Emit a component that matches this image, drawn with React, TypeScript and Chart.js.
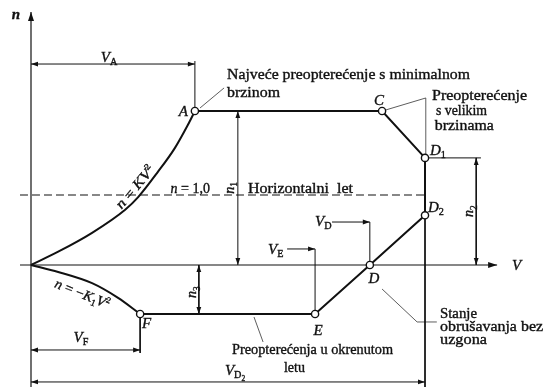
import { useEffect, useRef } from 'react';
import { Chart, registerables } from 'chart.js';

Chart.register(...registerables);

// Positive stall boundary n = K·V², origin to A
const stallPosV = [0, 6.9, 15.5, 23.9, 27.2, 32.2, 36.5, 39.8, 41.6];
const stallPosN = [0, 0.19, 0.46, 0.79, 0.97, 1.33, 1.67, 2.0, 2.2];

// Negative stall boundary n = -K1·V², origin to F
const stallNegV = [0, 6.9, 15.5, 22.1, 27.7];
const stallNegN = [0, -0.1, -0.26, -0.47, -0.7];

// Envelope corners, in drawing order A → C → D1 → D2 → D → E → F
const cornerNames = ['A', 'C', 'D1', 'D2', 'D', 'E', 'F'];
const cornerV = [41.6, 89.1, 100, 100, 86, 72.1, 27.7];
const cornerN = [2.2, 2.2, 1.53, 0.71, 0, -0.7, -0.7];

// Level flight load factor
const levelN = 1.0;

const INK = '#111';
const FONT = '"Liberation Serif", "Times New Roman", serif';

const corner = (name: string) => {
  const k = cornerNames.indexOf(name);
  return [cornerV[k], cornerN[k]];
};

type Line = { pts: number[][]; heads?: 'end' | 'both'; w?: number; color?: string; dash?: number[]; big?: boolean };

const [vA, nA] = corner('A');
const [vC, nC] = corner('C');
const [vD1, nD1] = corner('D1');
const [vD2, nD2] = corner('D2');
const [vD] = corner('D');
const [vE, nE] = corner('E');
const [vF, nF] = corner('F');

// Axes, dimension lines and leaders
const thinLines: Line[] = [
  { pts: [[0, -1.75], [0, 3.614]], heads: 'end', w: 1.2, big: true },
  { pts: [[-2.8, 0], [118.3, 0]], heads: 'end', w: 1.2, big: true },
  { pts: [[-2.8, levelN], [vD1, levelN]], w: 1.1, dash: [8, 4] },
  // V_A
  { pts: [[0, 2.871], [vA, 2.871]], heads: 'both' },
  { pts: [[vA, nA], [vA, 2.914]] },
  // n1
  { pts: [[52.5, 0], [52.5, nA]], heads: 'both' },
  // n2
  { pts: [[vD1, nD1], [114.2, nD1]] },
  { pts: [[113.0, nD1], [113.0, 0]], heads: 'both' },
  // n3
  { pts: [[42.6, 0], [42.6, nF]], heads: 'both' },
  // V_E
  { pts: [[vE, nE], [vE, 0.229]] },
  { pts: [[65.0, 0.229], [vE, 0.229]], heads: 'end' },
  // V_D
  { pts: [[vD, 0], [vD, 0.614]] },
  { pts: [[76.4, 0.614], [vD, 0.614]], heads: 'end' },
  // V_F
  { pts: [[vF, nF], [vF, -1.257]] },
  { pts: [[0, -1.214], [vF, -1.214]], heads: 'both' },
  // V_D2
  { pts: [[vD2, nD2], [vD2, -1.75]] },
  { pts: [[0, -1.671], [vD2, -1.671]], heads: 'both' },
  // leaders
  { pts: [[100.2, nD1], [100.2, 2.386]], w: 0.8, color: '#333' },
  { pts: [[vC + 0.9, nC + 0.014], [100.2, 2.386]], w: 0.8, color: '#333' },
  { pts: [[vA + 1.3, nA + 0.043], [49.0, 2.529]], w: 0.8, color: '#333' },
  { pts: [[89.1, -0.343], [98.0, -0.814], [103.0, -0.814]], w: 0.8, color: '#333' },
  { pts: [[56.6, -0.743], [58.9, -1.1]], w: 0.8, color: '#333' },
];

type Run = { t: string; i?: boolean; b?: boolean; s?: 1 | 2; p?: boolean };
type Label = { at: number[]; runs: Run[]; size: number; align: 'left' | 'center' | 'right'; rot?: number; width?: number };

const I = (t: string): Run => ({ t, i: true });
const R = (t: string): Run => ({ t });
const S = (t: string): Run => ({ t, s: 1 });
const SS = (t: string): Run => ({ t, s: 2 });
const P = (t: string): Run => ({ t, p: true });

const labels: Label[] = [
  { at: [-3.81, 3.514], runs: [{ t: 'n', i: true, b: true }], size: 15, align: 'center' },
  { at: [19.8, 2.9], runs: [I('V'), S('A')], size: 15, align: 'center' },
  { at: [39.85, 2.129], runs: [I('A')], size: 15, align: 'right' },
  { at: [49.75, 2.657], runs: [R('Najveće preopterećenje s minimalnom')], size: 14, align: 'left', width: 243 },
  { at: [49.75, 2.4], runs: [R('brzinom')], size: 14, align: 'left', width: 53 },
  { at: [88.32, 2.286], runs: [I('C')], size: 15, align: 'center' },
  { at: [101.78, 2.357], runs: [R('Preopterećenje')], size: 14, align: 'left', width: 95 },
  { at: [102.79, 2.143], runs: [R('s velikim')], size: 14, align: 'left', width: 51 },
  { at: [102.5, 1.929], runs: [R('brzinama')], size: 14, align: 'left', width: 59 },
  { at: [101.27, 1.571], runs: [I('D'), S('1')], size: 15, align: 'left' },
  { at: [100.76, 0.757], runs: [I('D'), S('2')], size: 15, align: 'left' },
  { at: [45.43, 1.029], runs: [I('n'), R(' = 1,0')], size: 14, align: 'right' },
  { at: [51.4, 1.1], runs: [I('n'), S('1')], size: 14, align: 'center', rot: -90 },
  { at: [55.08, 1.029], runs: [R('Horizontalni  let')], size: 14, align: 'left', width: 105 },
  { at: [27.28, 1.071], runs: [I('n'), R(' = '), I('KV'), P('2')], size: 14, align: 'center', rot: -49.5, width: 52 },
  { at: [12.6, -0.47], runs: [I('n'), R(' = −'), I('K'), S('1'), I('V'), P('2')], size: 14, align: 'center', rot: 22, width: 58 },
  { at: [60.15, 0.157], runs: [I('V'), S('E')], size: 15, align: 'left' },
  { at: [72.08, 0.557], runs: [I('V'), S('D')], size: 15, align: 'left' },
  { at: [87.06, -0.257], runs: [I('D')], size: 15, align: 'center' },
  { at: [122.08, -0.071], runs: [I('V')], size: 15, align: 'left' },
  { at: [42.0, -0.386], runs: [I('n'), S('3')], size: 14, align: 'center', rot: -90 },
  { at: [28.17, -0.9], runs: [I('F')], size: 15, align: 'left' },
  { at: [72.84, -1.0], runs: [I('E')], size: 15, align: 'center' },
  { at: [12.69, -1.1], runs: [I('V'), S('F')], size: 15, align: 'center' },
  { at: [103.81, -0.757], runs: [R('Stanje')], size: 14, align: 'left', width: 37 },
  { at: [103.81, -0.943], runs: [R('obrušavanja bez')], size: 14, align: 'left', width: 103 },
  { at: [103.81, -1.129], runs: [R('uzgona')], size: 14, align: 'left', width: 47 },
  { at: [51.02, -1.271], runs: [R('Preopterećenja u okrenutom')], size: 14, align: 'left', width: 161 },
  { at: [64.2, -1.529], runs: [R('letu')], size: 14, align: 'left', width: 21 },
  { at: [51.78, -1.571], runs: [I('V'), S('D'), SS('2')], size: 15, align: 'center' },
  { at: [112.3, 0.771], runs: [I('n'), S('2')], size: 14, align: 'center', rot: -90 },
];

const runSize = (r: Run, size: number) => (r.s === 1 ? size * 0.68 : r.s === 2 ? size * 0.5 : r.p ? size * 0.62 : size);
const runFont = (r: Run, size: number) =>
  `${r.i ? 'italic ' : ''}${r.b ? 'bold ' : ''}${runSize(r, size).toFixed(1)}px ${FONT}`;
const runDy = (r: Run, size: number) => (r.s === 1 ? size * 0.22 : r.s === 2 ? size * 0.4 : r.p ? -size * 0.4 : 0);

function drawLabel(ctx: CanvasRenderingContext2D, x: number, y: number, l: Label) {
  ctx.save();
  ctx.translate(x, y);
  if (l.rot) ctx.rotate((l.rot * Math.PI) / 180);
  const widths = l.runs.map((r) => {
    ctx.font = runFont(r, l.size);
    return ctx.measureText(r.t).width;
  });
  const total = widths.reduce((a, b) => a + b, 0);
  if (l.width) ctx.scale(l.width / total, 1);
  let cx = l.align === 'left' ? 0 : l.align === 'center' ? -total / 2 : -total;
  ctx.textAlign = 'left';
  ctx.textBaseline = 'alphabetic';
  ctx.fillStyle = INK;
  ctx.strokeStyle = INK;
  ctx.lineWidth = 0.35;
  l.runs.forEach((r, k) => {
    ctx.font = runFont(r, l.size);
    const dy = runDy(r, l.size);
    ctx.fillText(r.t, cx, dy);
    ctx.strokeText(r.t, cx, dy);
    cx += widths[k];
  });
  ctx.restore();
}

function arrowHead(ctx: CanvasRenderingContext2D, fx: number, fy: number, tx: number, ty: number, len: number, hw: number) {
  const d = Math.hypot(tx - fx, ty - fy) || 1;
  const ux = (tx - fx) / d;
  const uy = (ty - fy) / d;
  const bx = tx - ux * len;
  const by = ty - uy * len;
  ctx.beginPath();
  ctx.moveTo(tx, ty);
  ctx.lineTo(bx - uy * hw, by + ux * hw);
  ctx.lineTo(bx + uy * hw, by - ux * hw);
  ctx.closePath();
  ctx.fill();
}

const diagramPlugin = {
  id: 'diagramMarks',
  afterDatasetsDraw(chart: any) {
    const ctx: CanvasRenderingContext2D = chart.ctx;
    const xs = chart.scales.x;
    const ys = chart.scales.y;
    const px = (v: number) => xs.getPixelForValue(v);
    const py = (n: number) => ys.getPixelForValue(n);
    ctx.save();
    ctx.fillStyle = INK;
    for (const ln of thinLines) {
      if (!ln.heads) continue;
      const len = ln.big ? 9 : 7;
      const hw = ln.big ? 3 : 2.4;
      const p = ln.pts;
      const a = p[p.length - 2];
      const b = p[p.length - 1];
      arrowHead(ctx, px(a[0]), py(a[1]), px(b[0]), py(b[1]), len, hw);
      if (ln.heads === 'both') {
        arrowHead(ctx, px(p[1][0]), py(p[1][1]), px(p[0][0]), py(p[0][1]), len, hw);
      }
    }
    for (const l of labels) drawLabel(ctx, px(l.at[0]), py(l.at[1]), l);
    ctx.restore();
  },
};

export default function App() {
  const canvasRef = useRef<HTMLCanvasElement | null>(null);

  useEffect(() => {
    const canvas = canvasRef.current;
    if (!canvas) return;

    const toXY = (vs: number[], ns: number[]) => vs.map((v, k) => ({ x: v, y: ns[k] }));

    const thinSets = thinLines.map((ln) => ({
      data: ln.pts.map((p) => ({ x: p[0], y: p[1] })),
      showLine: true,
      borderColor: ln.color ?? INK,
      borderWidth: ln.w ?? 1,
      borderDash: ln.dash ?? [],
      pointRadius: 0,
      clip: false as any,
      order: 3,
    }));

    const chart = new Chart(canvas, {
      type: 'scatter',
      data: {
        datasets: [
          {
            data: toXY(cornerV, cornerN),
            showLine: false,
            pointRadius: 3.6,
            pointBorderWidth: 1.4,
            pointBackgroundColor: '#fff',
            pointBorderColor: INK,
            clip: false as any,
            order: 0,
          },
          {
            data: toXY(cornerV, cornerN),
            showLine: true,
            borderColor: INK,
            borderWidth: 2,
            pointRadius: 0,
            clip: false as any,
            order: 1,
          },
          {
            data: toXY(stallPosV, stallPosN),
            showLine: true,
            borderColor: INK,
            borderWidth: 2,
            cubicInterpolationMode: 'monotone',
            pointRadius: 0,
            clip: false as any,
            order: 1,
          },
          {
            data: toXY(stallNegV, stallNegN),
            showLine: true,
            borderColor: INK,
            borderWidth: 2,
            cubicInterpolationMode: 'monotone',
            pointRadius: 0,
            clip: false as any,
            order: 1,
          },
          ...thinSets,
        ] as any,
      },
      options: {
        animation: false,
        responsive: false,
        maintainAspectRatio: false,
        layout: { padding: 0, autoPadding: false } as any,
        events: [],
        plugins: { legend: { display: false }, tooltip: { enabled: false } },
        scales: {
          x: { type: 'linear', display: false, min: -7.868, max: 132.487 },
          y: { type: 'linear', display: false, min: -1.7429, max: 3.7857 },
        },
      },
      plugins: [diagramPlugin],
    });

    return () => chart.destroy();
  }, []);

  return (
    <div style={{ position: 'fixed', left: 0, top: 0, width: 553, height: 387, background: '#fff' }}>
      <canvas ref={canvasRef} width={553} height={387} style={{ display: 'block' }} />
    </div>
  );
}
